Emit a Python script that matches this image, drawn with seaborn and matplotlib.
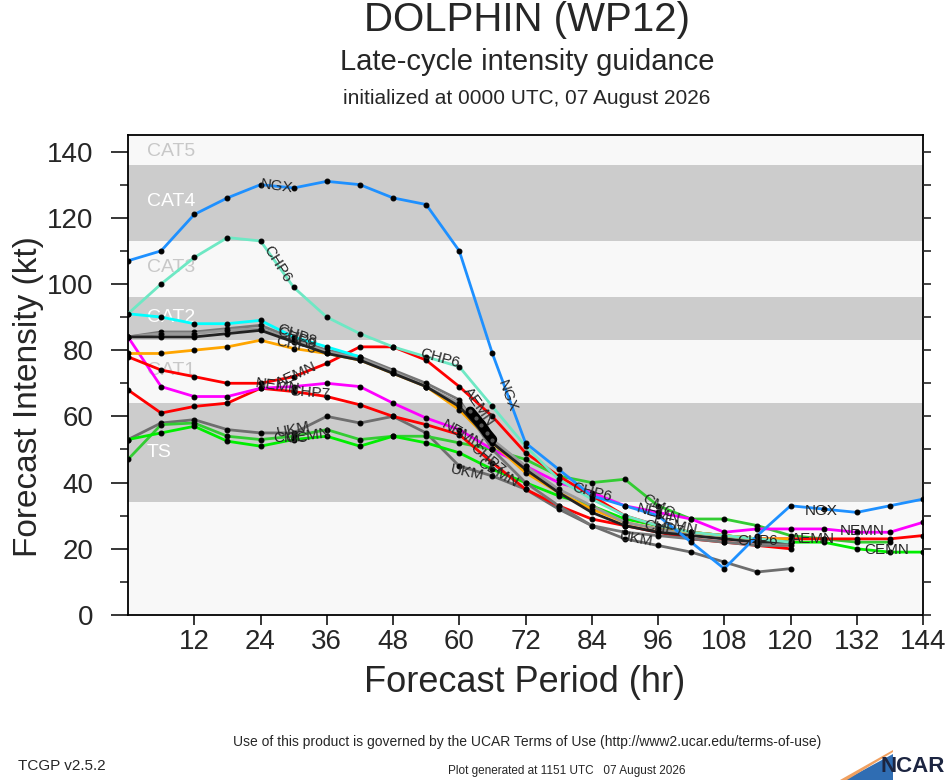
import pandas as pd
import seaborn as sns
import matplotlib.pyplot as plt
from matplotlib.patches import Polygon

# Horas de previsão (a cada 6 h)
hours = list(range(0, 145, 6))

# Intensidade (kt) por modelo
ngx = [107, 110, 121, 126, 130, 129, 131, 130, 126, 124, 110, 79, 52, 44, 36, 33, 30, 22, 14, 24, 33, 32, 31, 33, 35]
chp6 = [91, 100, 108, 114, 113, 99, 90, 85, 81, 78, 75, 63, 51, 41, 35, 30, 27, 25, 24, 23, 22]
cyan = [91, 90, 88, 88, 89, 84, 81, 78]
gray1 = [84, 85.5, 85.5, 86.5, 87.5, 83.5, 80, 78, 74, 70, 65, 50, 40, 33, 27, 25, 24, 23, 22, 21, 21]
gray2 = [84, 85, 85, 86, 86.5, 83, 79.5, 77.5, 73.5, 69, 64, 53, 45, 38, 33, 28, 26, 24, 23, 22, 22]
black = [84, 84, 84, 85, 86, 82.5, 79, 77, 73, 69, 63, 52, 44, 37, 31, 27, 25, 24, 23, 22, 22]
orange = [79, 79, 80, 81, 83, 80.5, 79, 77, 73, 69, 62, 52, 43, 37, 32, 28, 26, 25, 24, 23, 23]
aemn = [78, 74, 72, 70, 70, 72, 76, 81, 81, 77, 69, 60, 49, 42, 36, 30, 27, 25, 24, 23, 23, 23, 23, 23, 24]
chp7 = [68, 61, 63, 64, 68.5, 67.5, 66, 63.5, 60, 57.5, 54.5, 46, 38, 33, 29, 27, 25, 23, 22, 21, 20]
nemn = [84, 69, 66, 66, 68.5, 69, 70, 69, 64, 59.5, 56, 50, 45, 40, 37, 33, 31, 29, 25, 26, 26, 26, 25, 25, 28]
ukm = [53, 58, 59, 56, 55, 55, 60, 58, 60, 55, 45, 42, 38, 32, 27, 23, 21, 19, 16, 13, 14]
cmc = [47, 57.5, 58, 54, 53, 54, 56, 53, 54, 54, 52, 50, 47, 42, 40, 41, 33, 29, 29, 27, 24, 23, 22, 22]
cemn = [53, 55, 57, 52.5, 51, 53, 54, 51, 54, 52, 49, 44, 40, 36, 33, 29, 27, 25, 24, 23, 22, 22, 20, 19, 19]

# Série curta com pontos horários (62-66 h)
short_hours = [62, 63, 64, 65, 66]
short_vals = [61.5, 59.5, 57.5, 55, 53]

# Faixas de categoria
band_edges = [0, 34, 64, 83, 96, 113, 136, 145]
band_names = ["", "TS", "CAT1", "CAT2", "CAT3", "CAT4", "CAT5"]

series = [
    ("UKM", ukm, "#6e6e6e"),
    ("CMC", cmc, "#33cc33"),
    ("CEMN", cemn, "#00ee00"),
    ("CHP7", chp7, "#ff0000"),
    ("NEMN", nemn, "#ff00ff"),
    ("AEMN", aemn, "#ff0000"),
    ("CHP3", orange, "#ffa500"),
    ("CHP8", gray1, "#777777"),
    ("CHP9", gray2, "#999999"),
    ("CHP5", black, "#222222"),
    ("CYAN", cyan, "#00ffff"),
    ("CHP6", chp6, "#6ee8c4"),
    ("NGX", ngx, "#1e90ff"),
]

rows = []
for name, vals, col in series:
    for h, v in zip(hours, vals):
        rows.append([name, h, v])
df = pd.DataFrame(rows, columns=["Modelo", "Hora", "Vento"])

sns.set_style("white")
plt.rcParams["font.family"] = ["Liberation Sans", "DejaVu Sans"]

fig = plt.figure(figsize=(9.46, 7.8), dpi=100)
ax = fig.add_axes([128 / 946, 1 - 615 / 780, (923 - 128) / 946, (615 - 135) / 780])

# Fundo com faixas
for i in range(len(band_edges) - 1):
    cor = "#cccccc" if i % 2 == 1 else "#f8f8f8"
    ax.axhspan(band_edges[i], band_edges[i + 1], color=cor, zorder=0, lw=0)
cat_y = [None, 49, 74, 90, 105, 125, 140]
for i, nome in enumerate(band_names):
    if not nome:
        continue
    cor = "white" if i % 2 == 1 else "#c8c8c8"
    ax.text(3.4, cat_y[i], nome, color=cor, fontsize=14, va="center", ha="left", zorder=1)

for name, vals, col in series:
    sns.lineplot(data=df[df["Modelo"] == name], x="Hora", y="Vento", color=col,
                 linewidth=2, marker="o", markersize=3.5, markerfacecolor="black",
                 markeredgecolor="black", ax=ax, zorder=3, legend=False)

ax.plot(short_hours, short_vals, color="black", linewidth=7, solid_capstyle="round", zorder=4)
ax.plot(short_hours, short_vals, "o", color="#555555", markersize=2, zorder=5)

# Rótulos ao longo das linhas
rotulos = [
    ("NGX", 27, 129.5, -8), ("NGX", 68.6, 66, -70), ("NGX", 125.5, 31.5, 0),
    ("CHP6", 27, 106, -58), ("CHP6", 56.5, 77.5, -15), ("CHP6", 84, 37, -15), ("CHP6", 114, 22.5, 0),
    ("AEMN", 30.5, 72.5, 25), ("AEMN", 63.5, 63, -55), ("AEMN", 124, 23, 0),
    ("NEMN", 27, 69, -8), ("NEMN", 60.5, 54.5, -30), ("NEMN", 96, 30.5, -15), ("NEMN", 133, 25.5, 0),
    ("CHP7", 33, 67, -5), ("CHP7", 65, 47, -40), ("CHP7", 97, 26, -10),
    ("UKM", 30, 56, 12), ("UKM", 61.5, 43, -12), ("UKM", 92, 23, -10),
    ("CMC", 29.5, 53.5, 0), ("CMC", 96, 33, -30),
    ("CEMN", 32.5, 54, 8), ("CEMN", 67, 43, -30), ("CEMN", 99, 27, -12), ("CEMN", 137.5, 19.5, 0),
    ("CHP8", 30.5, 84.5, -20), ("CHP9", 30.5, 83.5, -20), ("CHP3", 30.5, 81.5, -12),
]
for txt, x, y, r in rotulos:
    ax.text(x, y, txt, fontsize=11, rotation=r, ha="center", va="center",
            rotation_mode="anchor", zorder=6)

ax.set_xlim(0, 144)
ax.set_ylim(0, 145)
ax.set_xticks(range(12, 145, 12))
ax.set_yticks(range(0, 141, 20))
ax.set_yticks(range(10, 145, 20), minor=True)
ax.tick_params(axis="x", which="major", direction="out", length=7, width=1.3,
               labelsize=20, pad=3, bottom=True)
ax.tick_params(axis="y", which="major", direction="out", length=12, width=1.3,
               labelsize=20, pad=13, left=True)
ax.tick_params(axis="y", which="minor", direction="out", length=6, width=1.2, left=True)
ax.set_xlabel("")
ax.set_ylabel("")
for s in ax.spines.values():
    s.set_color("black")
    s.set_linewidth(1.3)

# Marcas do lado direito (a cada 10 kt)
ax2 = ax.twinx()
ax2.set_ylim(0, 145)
ax2.set_yticks(range(0, 145, 10))
ax2.tick_params(axis="y", direction="out", length=6, width=1.2, labelright=False, right=True)
for s in ax2.spines.values():
    s.set_visible(False)

# Títulos
fig.text(527 / 946, 1 - 20 / 780, "DOLPHIN (WP12)", ha="center", va="center", fontsize=29)
fig.text(527 / 946, 1 - 62 / 780, "Late-cycle intensity guidance", ha="center", va="center", fontsize=21)
fig.text(527 / 946, 1 - 98 / 780, "initialized at 0000 UTC, 07 August 2026", ha="center", va="center", fontsize=15)
fig.text(525 / 946, 1 - 683 / 780, "Forecast Period (hr)", ha="center", va="center", fontsize=26)
fig.text(29 / 946, 1 - 397 / 780, "Forecast Intensity (kt)", ha="center", va="center",
         fontsize=24, rotation=90)

# Rodapé
fig.text(527 / 946, 1 - 742 / 780,
         "Use of this product is governed by the UCAR Terms of Use (http://www2.ucar.edu/terms-of-use)",
         ha="center", va="center", fontsize=10)
fig.text(18 / 946, 1 - 766 / 780, "TCGP v2.5.2", ha="left", va="center", fontsize=11)
fig.text(567 / 946, 1 - 771 / 780, "Plot generated at 1151 UTC   07 August 2026",
         ha="center", va="center", fontsize=8.5)

# Logotipo NCAR simplificado
fig.patches.append(Polygon([(845 / 946, 0), (893 / 946, 0), (893 / 946, 26 / 780)],
                           closed=True, transform=fig.transFigure, color="#2f6db3", lw=0))
fig.patches.append(Polygon([(840 / 946, 0), (847 / 946, 0), (893 / 946, 28 / 780), (893 / 946, 30 / 780)],
                           closed=True, transform=fig.transFigure, color="#f0a060", lw=0))
fig.text(880 / 946, 1 - 766 / 780, "NCAR", ha="left", va="center", fontsize=16,
         fontweight="bold", color="#1c2541")

fig.savefig("out.png", dpi=100)
